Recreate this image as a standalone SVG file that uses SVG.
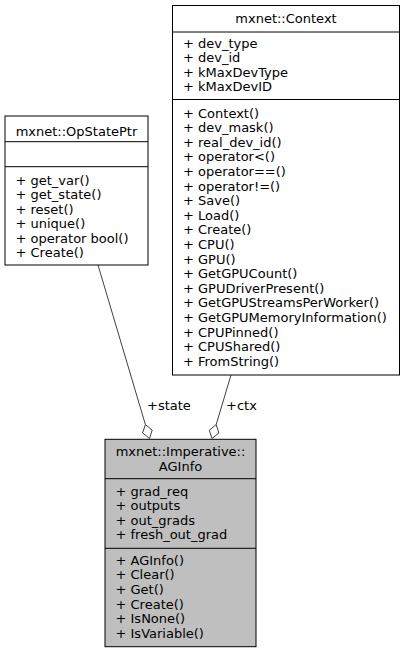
<svg xmlns="http://www.w3.org/2000/svg" width="405" height="653" viewBox="0 0 405 653">
<style>
text{font-family:"DejaVu Sans",sans-serif;font-size:13px;fill:#000}
.t{text-anchor:middle}
.box{fill:#fff;stroke:#000;stroke-width:1}
.cur{fill:#bfbfbf;stroke:#000;stroke-width:1}
.sep{stroke:#000;stroke-width:1}
.edge{fill:none;stroke:#404040;stroke-width:1}
.dia{fill:#fff;stroke:#404040;stroke-width:1}
</style>
<rect width="405" height="653" fill="#fff"/>
<g id="connectors">
<path class="edge" d="M98,265 L145.4,424.6"/>
<polygon class="dia" points="149.5,438.5 152.2,430.1 145.4,424.6 142.6,432.9"/>
<text x="147" y="410">+state</text>
<path class="edge" d="M231,375 L216.2,424.6"/>
<polygon class="dia" points="212,438.5 218.9,433 216.2,424.6 209.3,430.2"/>
<text x="226" y="410">+ctx</text>
</g>
<g id="Context">
<rect class="box" x="172.5" y="5.5" width="227" height="369.5"/>
<line class="sep" x1="172.5" y1="32" x2="399.5" y2="32"/>
<line class="sep" x1="172.5" y1="99.5" x2="399.5" y2="99.5"/>
<text class="t" x="286" y="23">mxnet::Context</text>
<text x="183" y="47.5">+ dev_type</text>
<text x="183" y="62">+ dev_id</text>
<text x="183" y="76.5">+ kMaxDevType</text>
<text x="183" y="91">+ kMaxDevID</text>
<text x="183" y="117.5">+ Context()</text>
<text x="183" y="132.1">+ dev_mask()</text>
<text x="183" y="146.7">+ real_dev_id()</text>
<text x="183" y="161.3">+ operator&lt;()</text>
<text x="183" y="175.9">+ operator==()</text>
<text x="183" y="190.5">+ operator!=()</text>
<text x="183" y="205.1">+ Save()</text>
<text x="183" y="219.7">+ Load()</text>
<text x="183" y="234.3">+ Create()</text>
<text x="183" y="248.9">+ CPU()</text>
<text x="183" y="263.5">+ GPU()</text>
<text x="183" y="278.1">+ GetGPUCount()</text>
<text x="183" y="292.7">+ GPUDriverPresent()</text>
<text x="183" y="307.3">+ GetGPUStreamsPerWorker()</text>
<text x="183" y="321.9">+ GetGPUMemoryInformation()</text>
<text x="183" y="336.5">+ CPUPinned()</text>
<text x="183" y="351.1">+ CPUShared()</text>
<text x="183" y="365.7">+ FromString()</text>
</g>
<g id="OpStatePtr">
<rect class="box" x="5" y="116" width="143" height="149"/>
<line class="sep" x1="5" y1="141.7" x2="148" y2="141.7"/>
<line class="sep" x1="5" y1="166.7" x2="148" y2="166.7"/>
<text class="t" x="76.5" y="135.5">mxnet::OpStatePtr</text>
<text x="15.5" y="185">+ get_var()</text>
<text x="15.5" y="199.4">+ get_state()</text>
<text x="15.5" y="213.8">+ reset()</text>
<text x="15.5" y="228.2">+ unique()</text>
<text x="15.5" y="242.6">+ operator bool()</text>
<text x="15.5" y="257">+ Create()</text>
</g>
<g id="AGInfo">
<rect class="cur" x="105" y="439.3" width="151" height="207.4"/>
<line class="sep" x1="105" y1="478.7" x2="256" y2="478.7"/>
<line class="sep" x1="105" y1="548.3" x2="256" y2="548.3"/>
<text class="t" x="180.5" y="456">mxnet::Imperative::</text>
<text class="t" x="180.5" y="470.5">AGInfo</text>
<text x="115.5" y="495.5">+ grad_req</text>
<text x="115.5" y="510">+ outputs</text>
<text x="115.5" y="524.5">+ out_grads</text>
<text x="115.5" y="539">+ fresh_out_grad</text>
<text x="115.5" y="564.8">+ AGInfo()</text>
<text x="115.5" y="579.4">+ Clear()</text>
<text x="115.5" y="594">+ Get()</text>
<text x="115.5" y="608.6">+ Create()</text>
<text x="115.5" y="623.2">+ IsNone()</text>
<text x="115.5" y="637.8">+ IsVariable()</text>
</g>
</svg>
